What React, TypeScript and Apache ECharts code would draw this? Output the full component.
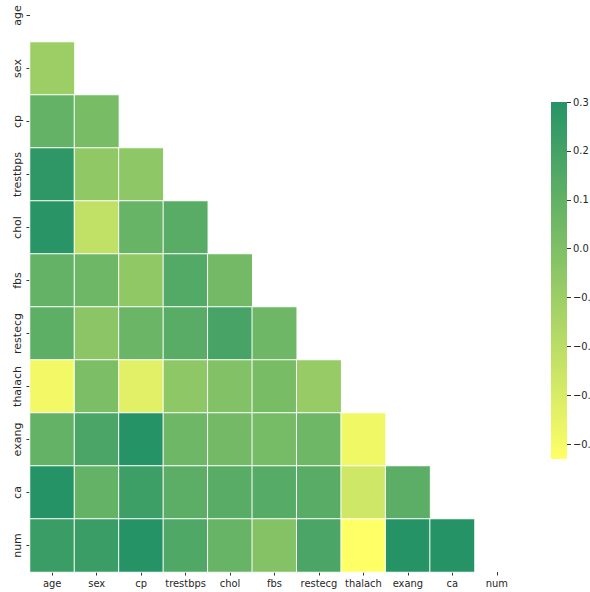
import React, { useEffect, useRef } from "react";
import * as echarts from "echarts";

// Feature names of the heart-disease table, in matrix order
const features = ["age", "sex", "cp", "trestbps", "chol", "fbs", "restecg", "thalach", "exang", "ca", "num"];

// Lower triangle of the correlation matrix: each row holds the correlations
// of that feature with every feature listed before it
const corrSex = [-0.1];
const corrCp = [0.09, 0.02];
const corrTrestbps = [0.27, -0.06, -0.05];
const corrChol = [0.29, -0.22, 0.08, 0.13];
const corrFbs = [0.09, 0.06, -0.06, 0.15, 0.04];
const corrRestecg = [0.11, -0.04, 0.07, 0.13, 0.19, 0.06];
const corrThalach = [-0.39, 0.01, -0.33, -0.05, -0.01, 0.02, -0.08];
const corrExang = [0.09, 0.18, 0.38, 0.06, 0.04, 0.03, 0.06, -0.38];
const corrCa = [0.36, 0.09, 0.22, 0.12, 0.13, 0.14, 0.13, -0.27, 0.12];
const corrNum = [0.23, 0.23, 0.41, 0.16, 0.08, -0.02, 0.18, -0.43, 0.4, 0.52];

const lowerRows = [[], corrSex, corrCp, corrTrestbps, corrChol, corrFbs, corrRestecg, corrThalach, corrExang, corrCa, corrNum];

// Colour scale limits, end colours and colour-bar ticks
const scaleMax = 0.3;
const lowColor = "#ffff66";
const highColor = "#269366";
const colorbarTicks = [0.3, 0.2, 0.1, 0.0, -0.1, -0.2, -0.3, -0.4];

// The canvas starts 11px above the page so that the first row is partly cut off
const SHIFT = 11;

export default function App() {
  const ref = useRef<HTMLDivElement>(null);

  useEffect(() => {
    if (!ref.current) return;
    const chart = echarts.init(ref.current, null, { renderer: "svg" });

    const all = lowerRows.flat();
    const scaleMin = Math.min(...all);

    const cells: [number, number, number][] = [];
    lowerRows.forEach((row, r) => {
      row.forEach((v, c) => {
        // values above the upper limit take the top colour
        cells.push([c, r, Math.min(v, scaleMax)]);
      });
    });

    const fmt = (v: number) => {
      const s = Math.abs(v).toFixed(1);
      return v < -1e-9 ? "\u2212" + s : s;
    };

    const tickStyle = { color: "#333", width: 1 };

    chart.setOption({
      animation: false,
      backgroundColor: "#ffffff",
      grid: [
        { left: 30, top: 0, width: 489, height: 583, outerBoundsMode: "none", containLabel: false },
        {
          // colour bar: the grid itself is filled with the scale's gradient
          left: 551,
          top: 102 + SHIFT,
          width: 16,
          height: 357,
          outerBoundsMode: "none",
          containLabel: false,
          show: true,
          borderWidth: 0,
          backgroundColor: new echarts.graphic.LinearGradient(0, 0, 0, 1, [
            { offset: 0, color: highColor },
            { offset: 1, color: lowColor },
          ]),
        },
      ],
      xAxis: [
        {
          type: "category",
          gridIndex: 0,
          data: features,
          axisLine: { show: false },
          axisTick: { show: true, interval: 0, alignWithLabel: true, length: 3.5, lineStyle: tickStyle },
          axisLabel: {
            interval: 0,
            margin: 6,
            fontSize: 11,
            fontFamily: "DejaVu Sans Condensed, DejaVu Sans",
            color: "#262626",
          },
          splitArea: { show: false },
          splitLine: { show: false },
        },
        { type: "category", gridIndex: 1, show: false, data: ["bar"] },
      ],
      yAxis: [
        {
          type: "category",
          gridIndex: 0,
          data: features,
          inverse: true,
          axisLine: { show: false },
          axisTick: { show: true, interval: 0, alignWithLabel: true, length: 3.5, lineStyle: tickStyle },
          axisLabel: {
            interval: 0,
            rotate: 90,
            margin: 7,
            fontSize: 11,
            fontFamily: "DejaVu Sans",
            color: "#262626",
          },
          splitArea: { show: false },
          splitLine: { show: false },
        },
        {
          type: "value",
          gridIndex: 1,
          position: "right",
          min: scaleMin,
          max: scaleMax,
          axisLine: { show: false, onZero: false },
          splitLine: { show: false },
          axisTick: {
            show: true,
            length: 4,
            customValues: colorbarTicks,
            lineStyle: tickStyle,
          },
          axisLabel: {
            show: true,
            margin: 6,
            customValues: colorbarTicks,
            formatter: (v: number) => fmt(v),
            fontSize: 11,
            fontFamily: "DejaVu Sans Condensed, DejaVu Sans",
            color: "#262626",
          },
        },
      ],
      visualMap: {
        type: "continuous",
        show: false,
        seriesIndex: 0,
        min: scaleMin,
        max: scaleMax,
        inRange: { color: [lowColor, highColor] },
      },
      series: [
        {
          type: "heatmap",
          xAxisIndex: 0,
          yAxisIndex: 0,
          data: cells,
          itemStyle: { borderColor: "#ffffff", borderWidth: 1 },
          emphasis: { disabled: true },
        },
      ],
    });

    return () => chart.dispose();
  }, []);

  return (
    <div
      ref={ref}
      style={{ position: "absolute", left: 0, top: -SHIFT, width: 590, height: 592 + SHIFT }}
    />
  );
}
